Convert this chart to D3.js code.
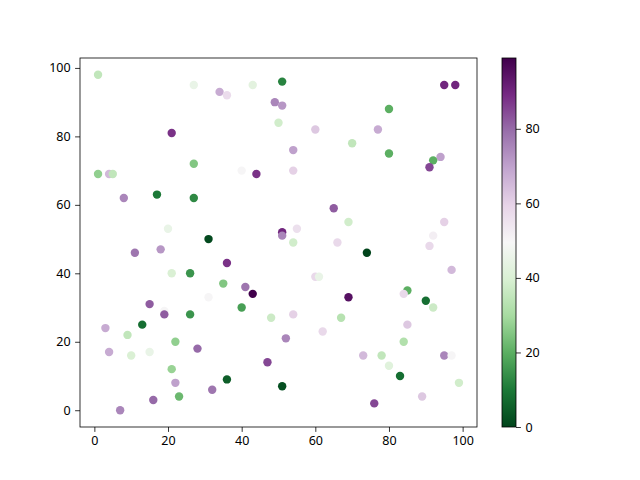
<!DOCTYPE html>
<html>
<head>
<meta charset="utf-8">
<script src="https://cdn.jsdelivr.net/npm/d3@7"></script>
<style>
  body { margin: 0; background: #fff; }
  svg { display: block; }
  text { font-family: "Noto Sans", "DejaVu Sans", sans-serif; font-size: 12.5px; fill: #000; }
</style>
</head>
<body>
<svg id="chart" width="640" height="480"></svg>
<script>
// Punktdaten (x, y, Farbwert)
const xs = [1, 27, 34, 36, 43, 51, 49, 51, 50, 21, 27, 1, 4, 5, 40, 44, 8, 17, 27, 20, 31, 51, 51,
  95, 98, 80, 60, 77, 70, 54, 80, 94, 92, 91, 54, 65, 69, 95, 55, 92, 66, 91, 54,
  11, 18, 36, 21, 26, 35, 41, 43, 31, 40, 48, 15, 19, 19, 26, 3, 9, 13, 22, 28, 4, 10, 15, 21, 22, 36, 47, 51, 32, 23, 16, 7,
  74, 97, 60, 61, 85, 84, 69, 90, 92, 67, 54, 62, 85, 52, 84, 73, 78, 95, 97, 80, 83, 99, 89, 76];
const ys = [98, 95, 93, 92, 95, 96, 90, 89, 84, 81, 72, 69, 69, 69, 70, 69, 62, 63, 62, 53, 50, 52, 51,
  95, 95, 88, 82, 82, 78, 76, 75, 74, 73, 71, 70, 59, 55, 55, 53, 51, 49, 48, 49,
  46, 47, 43, 40, 40, 37, 36, 34, 33, 30, 27, 31, 29, 28, 28, 24, 22, 25, 20, 18, 17, 16, 17, 12, 8, 9, 14, 7, 6, 4, 3, 0,
  46, 41, 39, 39, 35, 34, 33, 32, 30, 27, 28, 23, 25, 21, 20, 16, 16, 16, 16, 13, 10, 8, 4, 2];
const cs = [35, 45, 68, 57, 43, 12, 75, 72, 38, 88, 25, 27, 65, 35, 50, 88, 75, 10, 13, 45, 1, 90, 75,
  90, 90, 20, 62, 68, 35, 70, 20, 70, 20, 85, 60, 82, 38, 60, 56, 52, 58, 58, 38,
  78, 72, 88, 40, 15, 25, 78, 99, 50, 17, 37, 82, 50, 82, 15, 68, 35, 8, 27, 80, 68, 40, 45, 28, 70, 5, 85, 2, 78, 22, 80, 75,
  0, 65, 58, 45, 20, 58, 95, 8, 37, 33, 60, 58, 62, 75, 32, 65, 35, 75, 50, 42, 8, 38, 62, 85];
const xTicks = [0, 20, 40, 60, 80, 100];
const yTicks = [0, 20, 40, 60, 80, 100];
const cTicks = [0, 20, 40, 60, 80];

const svg = d3.select('#chart');
const plotLeft = 80, plotRight = 477, plotTop = 58, plotBottom = 427;

// Ränder wie matplotlib: 5% des Datenbereichs
function padded(values) {
  const [lo, hi] = d3.extent(values);
  const m = (hi - lo) * 0.05;
  return [lo - m, hi + m];
}

const x = d3.scaleLinear().domain(padded(xs)).range([plotLeft, plotRight]);
const y = d3.scaleLinear().domain(padded(ys)).range([plotBottom, plotTop]);
const cMin = d3.min(cs), cMax = d3.max(cs);
// PRGn umgekehrt: 0 = dunkelgrün, max = dunkellila
const prgn = d3.schemePRGn[11].slice().reverse();
const color = d3.scaleLinear()
  .domain(d3.range(11).map(i => cMin + (cMax - cMin) * i / 10))
  .range(prgn)
  .interpolate(d3.interpolateRgb);

// Punkte
svg.append('g')
  .selectAll('circle')
  .data(d3.range(xs.length))
  .join('circle')
  .attr('cx', i => x(xs[i]))
  .attr('cy', i => y(ys[i]))
  .attr('r', 4.2)
  .attr('fill', i => color(cs[i]));

// Achsen
const xAxis = d3.axisBottom(x).tickValues(xTicks).tickSize(4.9).tickPadding(4.5).tickSizeOuter(0);
const yAxis = d3.axisLeft(y).tickValues(yTicks).tickSize(4.9).tickPadding(4.5).tickSizeOuter(0);
const gx = svg.append('g').attr('transform', `translate(0,${plotBottom})`).call(xAxis);
const gy = svg.append('g').attr('transform', `translate(${plotLeft},0)`).call(yAxis);
[gx, gy].forEach(g => {
  g.select('.domain').remove();
  g.selectAll('line').attr('stroke', '#000').attr('stroke-width', 0.8);
  g.selectAll('text').attr('font-size', null).attr('font-family', null);
});

svg.append('rect')
  .attr('x', plotLeft).attr('y', plotTop)
  .attr('width', plotRight - plotLeft).attr('height', plotBottom - plotTop)
  .attr('fill', 'none').attr('stroke', '#000').attr('stroke-width', 0.8);

// Farbleiste
const cbLeft = 502, cbRight = 516;
const cScale = d3.scaleLinear().domain([cMin, cMax]).range([plotBottom, plotTop]);
const grad = svg.append('defs').append('linearGradient')
  .attr('id', 'cbar').attr('x1', 0).attr('y1', 1).attr('x2', 0).attr('y2', 0);
prgn.forEach((c, i) => {
  grad.append('stop').attr('offset', i / 10).attr('stop-color', c);
});
svg.append('rect')
  .attr('x', cbLeft).attr('y', plotTop)
  .attr('width', cbRight - cbLeft).attr('height', plotBottom - plotTop)
  .attr('fill', 'url(#cbar)').attr('stroke', '#000').attr('stroke-width', 0.8);

const cAxis = d3.axisRight(cScale).tickValues(cTicks).tickSize(4.9).tickPadding(4.5).tickSizeOuter(0);
const gc = svg.append('g').attr('transform', `translate(${cbRight},0)`).call(cAxis);
gc.select('.domain').remove();
gc.selectAll('line').attr('stroke', '#000').attr('stroke-width', 0.8);
gc.selectAll('text').attr('font-size', null).attr('font-family', null);
</script>
</body>
</html>
